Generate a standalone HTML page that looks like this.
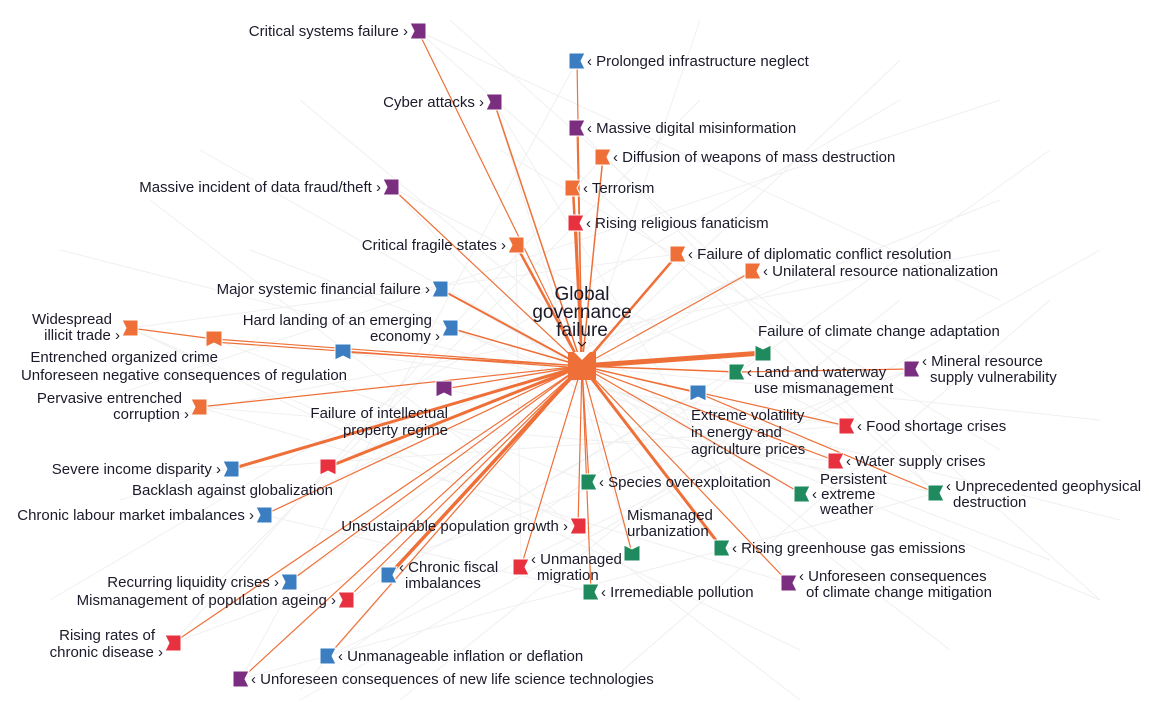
<!DOCTYPE html>
<html><head><meta charset="utf-8"><style>
html,body{margin:0;padding:0;background:#fff}
svg{display:block}
text{font-family:"Liberation Sans",Arial,sans-serif;font-size:15px;fill:#1a1a2a}
.e{stroke:#ee7038;fill:none}
.bg{stroke:#f0f0f0;stroke-width:1;fill:none}
</style></head><body>
<svg width="1149" height="702" viewBox="0 0 1149 702" xmlns="http://www.w3.org/2000/svg">
<g class="bg">
<path d="M582 366L900 60M582 366L1000 200M582 366L1100 420M582 366L950 650M582 366L300 690M582 366L120 500M582 366L200 150M582 366L700 20M418 31L1000 300M130 328L800 650M241 679L936 493M173 643L912 369M391 187L847 426M264 515L753 271M60 250L1120 520M300 100L900 600M700 100L200 600M1050 150L350 650M450 20L1100 600M150 420L1000 250M900 300L400 700M250 250L1050 560M600 690L1050 300M1000 450L500 150"/>
<path d="M418 31L936 493M494 102L789 583M577 61L241 679M603 157L173 643M753 271L289 582M678 254L130 328M912 369L328 656M847 426L231 469M836 461L199 407M802 494L440 289M722 548L391 187M632 553L494 102M591 592L264 515M389 575L763 353M346 600L698 393M521 567L516 245M578 526L130 328M936 493L577 128M789 583L199 407M328 467L753 271M444 389L936 493M343 352L847 426M214 339L589 482M450 328L1100 600M1000 100L100 400M1100 250L300 700M150 200L800 700M50 600L900 100"/>
</g>
<g class="e">
<line x1="582" y1="366" x2="418" y2="31" stroke-width="1.2"/>
<line x1="582" y1="366" x2="577" y2="61" stroke-width="1.2"/>
<line x1="582" y1="366" x2="494" y2="102" stroke-width="1.5"/>
<line x1="582" y1="366" x2="577" y2="128" stroke-width="1.2"/>
<line x1="582" y1="366" x2="603" y2="157" stroke-width="1.5"/>
<line x1="582" y1="366" x2="391" y2="187" stroke-width="1.2"/>
<line x1="582" y1="366" x2="573" y2="188" stroke-width="2.5"/>
<line x1="582" y1="366" x2="576" y2="223" stroke-width="2"/>
<line x1="582" y1="366" x2="516" y2="245" stroke-width="2.5"/>
<line x1="582" y1="366" x2="678" y2="254" stroke-width="2.5"/>
<line x1="582" y1="366" x2="753" y2="271" stroke-width="1.2"/>
<line x1="582" y1="366" x2="440" y2="289" stroke-width="2"/>
<line x1="582" y1="366" x2="450" y2="328" stroke-width="1.5"/>
<line x1="130" y1="328" x2="214" y2="339" stroke-width="1.2"/>
<line x1="214" y1="339" x2="582" y2="366" stroke-width="1.2"/>
<line x1="214" y1="342" x2="582" y2="368" stroke-width="1.2"/>
<line x1="582" y1="366" x2="343" y2="352" stroke-width="1.2"/>
<line x1="582" y1="366" x2="199" y2="407" stroke-width="1.2"/>
<line x1="582" y1="366" x2="444" y2="389" stroke-width="1.2"/>
<line x1="582" y1="366" x2="231" y2="469" stroke-width="3"/>
<line x1="582" y1="366" x2="328" y2="467" stroke-width="3"/>
<line x1="582" y1="366" x2="264" y2="515" stroke-width="1.2"/>
<line x1="582" y1="366" x2="578" y2="526" stroke-width="1.2"/>
<line x1="582" y1="366" x2="289" y2="582" stroke-width="1.2"/>
<line x1="582" y1="366" x2="389" y2="575" stroke-width="3.5"/>
<line x1="582" y1="366" x2="346" y2="600" stroke-width="1.2"/>
<line x1="582" y1="366" x2="521" y2="567" stroke-width="1.2"/>
<line x1="582" y1="366" x2="173" y2="643" stroke-width="1.2"/>
<line x1="582" y1="366" x2="328" y2="656" stroke-width="1.2"/>
<line x1="582" y1="366" x2="241" y2="679" stroke-width="1.2"/>
<line x1="582" y1="366" x2="591" y2="592" stroke-width="1.2"/>
<line x1="582" y1="366" x2="589" y2="482" stroke-width="1.2"/>
<line x1="582" y1="366" x2="632" y2="553" stroke-width="1.2"/>
<line x1="582" y1="366" x2="722" y2="548" stroke-width="3"/>
<line x1="582" y1="366" x2="789" y2="583" stroke-width="1.2"/>
<line x1="582" y1="366" x2="763" y2="353" stroke-width="5"/>
<line x1="582" y1="366" x2="737" y2="372" stroke-width="1.5"/>
<line x1="737" y1="372" x2="912" y2="369" stroke-width="1.2"/>
<line x1="582" y1="366" x2="698" y2="393" stroke-width="1.2"/>
<line x1="582" y1="366" x2="847" y2="426" stroke-width="1.2"/>
<line x1="582" y1="366" x2="836" y2="461" stroke-width="1.2"/>
<line x1="582" y1="366" x2="802" y2="494" stroke-width="1.2"/>
<line x1="698" y1="393" x2="936" y2="493" stroke-width="1.2"/>
</g>
<g>
<rect x="568" y="352" width="28" height="28" fill="#ee7038"/>
<path d="M574 352L582 360L590 352Z" fill="#fff"/>
</g>
<g stroke="#fff" stroke-width="1">
<path d="M-8-8H8L4 0 8 8H-8Z" fill="#7b2d7f" transform="translate(418,31) rotate(180)"/>
<path d="M-8-8H8L4 0 8 8H-8Z" fill="#3a7dc0" transform="translate(577,61)"/>
<path d="M-8-8H8L4 0 8 8H-8Z" fill="#7b2d7f" transform="translate(494,102) rotate(180)"/>
<path d="M-8-8H8L4 0 8 8H-8Z" fill="#7b2d7f" transform="translate(577,128)"/>
<path d="M-8-8H8L4 0 8 8H-8Z" fill="#ee7038" transform="translate(603,157)"/>
<path d="M-8-8H8L4 0 8 8H-8Z" fill="#7b2d7f" transform="translate(391,187) rotate(180)"/>
<path d="M-8-8H8L4 0 8 8H-8Z" fill="#ee7038" transform="translate(573,188)"/>
<path d="M-8-8H8L4 0 8 8H-8Z" fill="#e8313f" transform="translate(576,223)"/>
<path d="M-8-8H8L4 0 8 8H-8Z" fill="#ee7038" transform="translate(516,245) rotate(180)"/>
<path d="M-8-8H8L4 0 8 8H-8Z" fill="#ee7038" transform="translate(678,254)"/>
<path d="M-8-8H8L4 0 8 8H-8Z" fill="#ee7038" transform="translate(753,271)"/>
<path d="M-8-8H8L4 0 8 8H-8Z" fill="#3a7dc0" transform="translate(440,289) rotate(180)"/>
<path d="M-8-8H8L4 0 8 8H-8Z" fill="#ee7038" transform="translate(130,328) rotate(180)"/>
<path d="M-8-8H8L4 0 8 8H-8Z" fill="#3a7dc0" transform="translate(450,328) rotate(180)"/>
<path d="M-8-8H8L4 0 8 8H-8Z" fill="#ee7038" transform="translate(214,339) rotate(90)"/>
<path d="M-8-8H8L4 0 8 8H-8Z" fill="#3a7dc0" transform="translate(343,352) rotate(90)"/>
<path d="M-8-8H8L4 0 8 8H-8Z" fill="#ee7038" transform="translate(199,407) rotate(180)"/>
<path d="M-8-8H8L4 0 8 8H-8Z" fill="#7b2d7f" transform="translate(444,389) rotate(90)"/>
<path d="M-8-8H8L4 0 8 8H-8Z" fill="#3a7dc0" transform="translate(231,469) rotate(180)"/>
<path d="M-8-8H8L4 0 8 8H-8Z" fill="#e8313f" transform="translate(328,467) rotate(90)"/>
<path d="M-8-8H8L4 0 8 8H-8Z" fill="#3a7dc0" transform="translate(264,515) rotate(180)"/>
<path d="M-8-8H8L4 0 8 8H-8Z" fill="#e8313f" transform="translate(578,526) rotate(180)"/>
<path d="M-8-8H8L4 0 8 8H-8Z" fill="#3a7dc0" transform="translate(289,582) rotate(180)"/>
<path d="M-8-8H8L4 0 8 8H-8Z" fill="#3a7dc0" transform="translate(389,575)"/>
<path d="M-8-8H8L4 0 8 8H-8Z" fill="#e8313f" transform="translate(346,600) rotate(180)"/>
<path d="M-8-8H8L4 0 8 8H-8Z" fill="#e8313f" transform="translate(521,567)"/>
<path d="M-8-8H8L4 0 8 8H-8Z" fill="#e8313f" transform="translate(173,643) rotate(180)"/>
<path d="M-8-8H8L4 0 8 8H-8Z" fill="#3a7dc0" transform="translate(328,656)"/>
<path d="M-8-8H8L4 0 8 8H-8Z" fill="#7b2d7f" transform="translate(241,679)"/>
<path d="M-8-8H8L4 0 8 8H-8Z" fill="#1f8a5e" transform="translate(591,592)"/>
<path d="M-8-8H8L4 0 8 8H-8Z" fill="#1f8a5e" transform="translate(589,482)"/>
<path d="M-8-8H8L4 0 8 8H-8Z" fill="#1f8a5e" transform="translate(632,553) rotate(-90)"/>
<path d="M-8-8H8L4 0 8 8H-8Z" fill="#1f8a5e" transform="translate(722,548)"/>
<path d="M-8-8H8L4 0 8 8H-8Z" fill="#7b2d7f" transform="translate(789,583)"/>
<path d="M-8-8H8L4 0 8 8H-8Z" fill="#1f8a5e" transform="translate(763,353) rotate(-90)"/>
<path d="M-8-8H8L4 0 8 8H-8Z" fill="#1f8a5e" transform="translate(737,372)"/>
<path d="M-8-8H8L4 0 8 8H-8Z" fill="#7b2d7f" transform="translate(912,369)"/>
<path d="M-8-8H8L4 0 8 8H-8Z" fill="#3a7dc0" transform="translate(698,393) rotate(90)"/>
<path d="M-8-8H8L4 0 8 8H-8Z" fill="#e8313f" transform="translate(847,426)"/>
<path d="M-8-8H8L4 0 8 8H-8Z" fill="#e8313f" transform="translate(836,461)"/>
<path d="M-8-8H8L4 0 8 8H-8Z" fill="#1f8a5e" transform="translate(802,494)"/>
<path d="M-8-8H8L4 0 8 8H-8Z" fill="#1f8a5e" transform="translate(936,493)"/>
</g>
<g>
<text x="582" y="300" text-anchor="middle" style="font-size:19px">Global</text>
<text x="582" y="318" text-anchor="middle" style="font-size:19px">governance</text>
<text x="582" y="336" text-anchor="middle" style="font-size:19px">failure</text>
<path d="M578 342L582 346L586 342" stroke="#111" fill="none" stroke-width="1"/>
</g>
<g text-anchor="end">
<text x="408" y="36">Critical systems failure ›</text>
<text x="484" y="107">Cyber attacks ›</text>
<text x="381" y="192">Massive incident of data fraud/theft ›</text>
<text x="506" y="250">Critical fragile states ›</text>
<text x="430" y="294">Major systemic financial failure ›</text>
<text x="112" y="324">Widespread</text>
<text x="120" y="340">illicit trade ›</text>
<text x="432" y="325">Hard landing of an emerging</text>
<text x="440" y="341">economy ›</text>
<text x="218" y="362">Entrenched organized crime</text>
<text x="347" y="380">Unforeseen negative consequences of regulation</text>
<text x="182" y="403">Pervasive entrenched</text>
<text x="189" y="419">corruption ›</text>
<text x="448" y="418">Failure of intellectual</text>
<text x="448" y="435">property regime</text>
<text x="221" y="474">Severe income disparity ›</text>
<text x="333" y="495">Backlash against globalization</text>
<text x="254" y="520">Chronic labour market imbalances ›</text>
<text x="568" y="531">Unsustainable population growth ›</text>
<text x="279" y="587">Recurring liquidity crises ›</text>
<text x="336" y="605">Mismanagement of population ageing ›</text>
<text x="155" y="640">Rising rates of</text>
<text x="163" y="657">chronic disease ›</text>
</g>
<g>
<text x="587" y="66">‹ Prolonged infrastructure neglect</text>
<text x="587" y="133">‹ Massive digital misinformation</text>
<text x="613" y="162">‹ Diffusion of weapons of mass destruction</text>
<text x="583" y="193">‹ Terrorism</text>
<text x="586" y="228">‹ Rising religious fanaticism</text>
<text x="688" y="259">‹ Failure of diplomatic conflict resolution</text>
<text x="763" y="276">‹ Unilateral resource nationalization</text>
<text x="758" y="336">Failure of climate change adaptation</text>
<text x="747" y="377">‹ Land and waterway</text>
<text x="754" y="393">use mismanagement</text>
<text x="922" y="366">‹ Mineral resource</text>
<text x="930" y="382">supply vulnerability</text>
<text x="691" y="420">Extreme volatility</text>
<text x="691" y="437">in energy and</text>
<text x="691" y="454">agriculture prices</text>
<text x="857" y="431">‹ Food shortage crises</text>
<text x="846" y="466">‹ Water supply crises</text>
<text x="820" y="484">Persistent</text>
<text x="812" y="499">‹ extreme</text>
<text x="820" y="514">weather</text>
<text x="946" y="491">‹ Unprecedented geophysical</text>
<text x="953" y="507">destruction</text>
<text x="599" y="487">‹ Species overexploitation</text>
<text x="627" y="520">Mismanaged</text>
<text x="627" y="536">urbanization</text>
<text x="732" y="553">‹ Rising greenhouse gas emissions</text>
<text x="799" y="581">‹ Unforeseen consequences</text>
<text x="806" y="597">of climate change mitigation</text>
<text x="531" y="564">‹ Unmanaged</text>
<text x="537" y="580">migration</text>
<text x="601" y="597">‹ Irremediable pollution</text>
<text x="399" y="572">‹ Chronic fiscal</text>
<text x="405" y="588">imbalances</text>
<text x="338" y="661">‹ Unmanageable inflation or deflation</text>
<text x="251" y="684">‹ Unforeseen consequences of new life science technologies</text>
</g>
</svg>
</body></html>
